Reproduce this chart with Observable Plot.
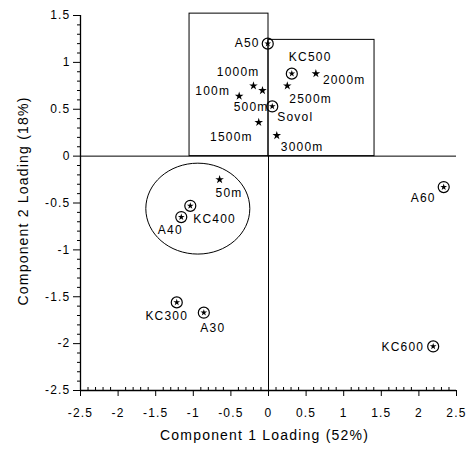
<!DOCTYPE html>
<html>
<head>
<meta charset="utf-8">
<script src="https://cdn.jsdelivr.net/npm/d3@7"></script>
<script src="https://cdn.jsdelivr.net/npm/@observablehq/plot@0.6"></script>
<style>
  html, body { margin: 0; padding: 0; background: #fff; }
  #chart { width: 474px; height: 452px; }
</style>
</head>
<body>
<div id="chart"></div>
<script>
// ---- data ----
const names   = ["A50", "KC500", "2000m", "2500m", "1000m", "500m", "100m", "Sovol", "1500m", "3000m", "50m", "KC400", "A40", "KC300", "A30", "A60", "KC600"];
const comp1   = [-0.01, 0.31, 0.63, 0.25, -0.20, -0.08, -0.39, 0.05, -0.13, 0.11, -0.65, -1.04, -1.16, -1.22, -0.86, 2.33, 2.19];
const comp2   = [1.20, 0.88, 0.88, 0.75, 0.75, 0.70, 0.64, 0.53, 0.36, 0.22, -0.25, -0.53, -0.65, -1.56, -1.67, -0.33, -2.03];
const markers = ["circled", "circled", "star", "star", "star", "star", "star", "circled", "star", "star", "star", "circled", "circled", "circled", "circled", "circled", "circled"];

// label placement (style, not data)
const labelAnchor = ["end", "start", "start", "start", "end", "end", "end", "start", "end", "start", "start", "start", "middle", "middle", "middle", "end", "end"];
const labelDx     = [-8, -3, 7, 2, 6, 6, -9, 5, -6, 4, -4, 3, -11, -10, 9, -8, -9];
const labelDy     = [0, -16, 7, 13, -14, 17, -5, 11, 15, 12, 14, 13, 13, 14, 15, 11, 1];

// boxes and group ring
const boxes = [
  {x1: -1.05, x2: 0, y1: 0, y2: 1.52},
  {x1: 0, x2: 1.41, y1: 0, y2: 1.24}
];
const ring = [{x: -0.94, y: -0.56}];

// axes
const xDomain = [-2.5, 2.5];
const yDomain = [-2.5, 1.5];
const xTicks = [-2.5, -2, -1.5, -1, -0.5, 0, 0.5, 1, 1.5, 2, 2.5];
const yTicks = [-2.5, -2, -1.5, -1, -0.5, 0, 0.5, 1, 1.5];
const xMinor = d3.range(-25, 26).map(d => d / 10).filter(d => !xTicks.includes(d));
const yMinor = d3.range(-25, 16).map(d => d / 10).filter(d => !yTicks.includes(d));
const xTitle = "Component 1 Loading (52%)";
const yTitle = "Component 2 Loading (18%)";

const pts = names.map((name, i) => ({name, x: comp1[i], y: comp2[i], marker: markers[i],
  anchor: labelAnchor[i], dx: labelDx[i], dy: labelDy[i]}));
const circled = pts.filter(d => d.marker === "circled");
const stars = pts.filter(d => d.marker === "star");

const fmt = d => String(d);

const ellipseSymbol = {
  draw(ctx, size) {
    const r = Math.sqrt(size / Math.PI);
    const rx = r * 1.07, ry = r * 0.935, k = 0.5523;
    ctx.moveTo(rx, 0);
    ctx.bezierCurveTo(rx, ry * k, rx * k, ry, 0, ry);
    ctx.bezierCurveTo(-rx * k, ry, -rx, ry * k, -rx, 0);
    ctx.bezierCurveTo(-rx, -ry * k, -rx * k, -ry, 0, -ry);
    ctx.bezierCurveTo(rx * k, -ry, rx, -ry * k, rx, 0);
    ctx.closePath();
  }
};

const chart = Plot.plot({
  width: 474,
  height: 452,
  marginLeft: 80,
  marginRight: 18,
  marginTop: 15,
  marginBottom: 62,
  style: {fontFamily: "'Liberation Sans', Arial, sans-serif", fontSize: "12px", letterSpacing: "1.2px", background: "#fff", color: "#000"},
  x: {domain: xDomain, axis: null},
  y: {domain: yDomain, axis: null},
  marks: [
    // reference lines and boxes
    Plot.ruleY([0], {stroke: "#000", strokeWidth: 1}),
    Plot.ruleX([0], {y1: yDomain[0], y2: 0, stroke: "#000", strokeWidth: 1}),
    Plot.rect(boxes, {x1: "x1", x2: "x2", y1: "y1", y2: "y2", fill: "none", stroke: "#000", strokeWidth: 1}),
    Plot.dot(ring, {x: "x", y: "y", r: 48.6, symbol: ellipseSymbol, fill: "none", stroke: "#000", strokeWidth: 1}),
    // axes
    Plot.ruleX([xDomain[0]], {stroke: "#000", strokeWidth: 1.3}),
    Plot.ruleY([yDomain[0]], {stroke: "#000", strokeWidth: 1.3}),
    Plot.axisY(yTicks, {tickSize: 7, tickPadding: 3, tickFormat: fmt, label: null, fontSize: 12, stroke: "#000"}),
    Plot.axisY(yMinor, {tickSize: 3, tickFormat: () => "", label: null, stroke: "#000"}),
    Plot.axisX(xTicks, {tickSize: 6, tickPadding: 12, tickFormat: fmt, label: null, fontSize: 12, stroke: "#000"}),
    Plot.axisX(xMinor, {tickSize: 3, dy: -3, tickFormat: () => "", label: null, stroke: "#000"}),
    Plot.text([xTitle], {frameAnchor: "bottom", textAnchor: "middle", dy: 49, dx: -4, fontSize: 14, fill: "#000"}),
    Plot.text([yTitle], {frameAnchor: "left", textAnchor: "middle", rotate: -90, dx: -57, dy: -2, fontSize: 14, fill: "#000"}),
    // points
    Plot.dot(circled, {x: "x", y: "y", r: 5.5, fill: "none", stroke: "#000", strokeWidth: 1.2}),
    Plot.dot(circled, {x: "x", y: "y", r: 2.1, symbol: "star", fill: "#000", stroke: "none"}),
    Plot.dot(stars, {x: "x", y: "y", r: 2.7, symbol: "star", fill: "#000", stroke: "none"}),
    // labels
    ...pts.map(d => Plot.text([d], {x: "x", y: "y", text: "name", textAnchor: d.anchor, dx: d.dx, dy: d.dy, fontSize: 12, fill: "#000"}))
  ]
});
document.getElementById("chart").appendChild(chart);
</script>
</body>
</html>
